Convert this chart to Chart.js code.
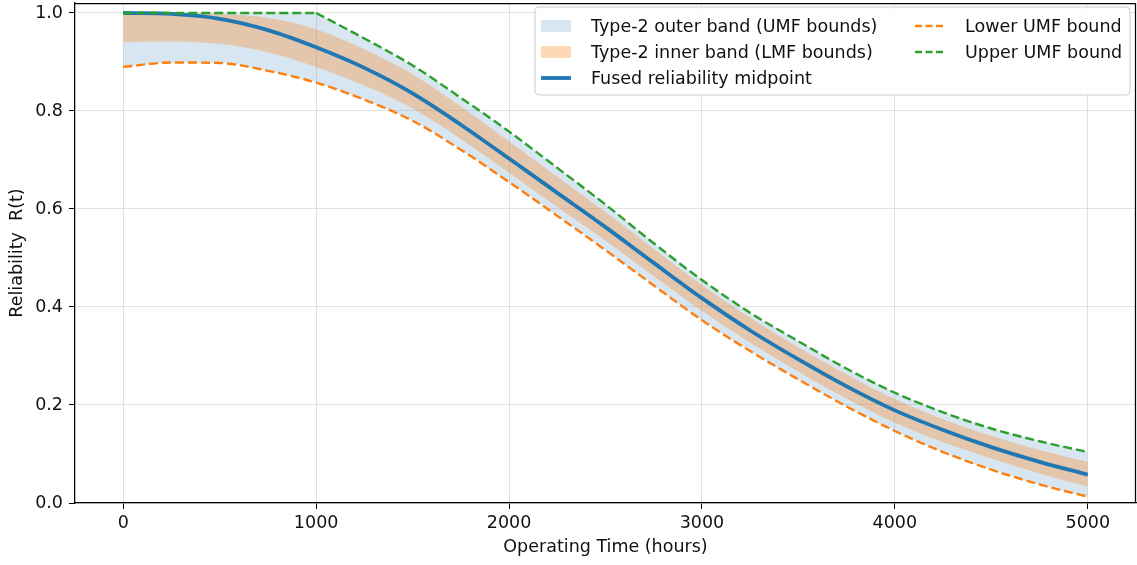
<!DOCTYPE html>
<html>
<head>
<meta charset="utf-8">
<script src="https://cdn.jsdelivr.net/npm/chart.js@4/dist/chart.umd.min.js"></script>
<style>
  html, body { margin: 0; padding: 0; background: #fff; }
  #wrap { width: 1137px; height: 565px; }
</style>
</head>
<body>
<div id="wrap"><canvas id="reliabilityChart" width="1137" height="565"></canvas></div>
<script>
// values
var hours    = [0, 250, 500, 750, 1000, 1250, 1500, 1750, 2000, 2250, 2500, 2750, 3000, 3250, 3500, 3750, 4000, 4250, 4500, 4750, 5000];
var midpoint = [1.000, 0.998, 0.988, 0.965, 0.930, 0.888, 0.836, 0.772, 0.703, 0.633, 0.563, 0.490, 0.418, 0.352, 0.293, 0.238, 0.189, 0.149, 0.114, 0.084, 0.058];
var upperUMF = [1.000, 1.000, 1.000, 1.000, 1.000, 0.948, 0.893, 0.827, 0.758, 0.684, 0.609, 0.530, 0.455, 0.388, 0.330, 0.274, 0.225, 0.185, 0.152, 0.126, 0.104];
var lowerUMF = [0.890, 0.899, 0.898, 0.882, 0.858, 0.823, 0.780, 0.721, 0.655, 0.586, 0.516, 0.444, 0.373, 0.310, 0.252, 0.197, 0.147, 0.104, 0.068, 0.038, 0.013];
var upperLMF = [1.000, 1.000, 0.998, 0.990, 0.967, 0.926, 0.875, 0.809, 0.738, 0.666, 0.594, 0.519, 0.445, 0.378, 0.318, 0.262, 0.212, 0.171, 0.137, 0.108, 0.084];
var lowerLMF = [0.941, 0.942, 0.937, 0.920, 0.890, 0.852, 0.805, 0.743, 0.674, 0.604, 0.535, 0.463, 0.392, 0.327, 0.268, 0.213, 0.164, 0.124, 0.091, 0.060, 0.033];
var xTicks = [0, 1000, 2000, 3000, 4000, 5000];
var yTicks = [0.0, 0.2, 0.4, 0.6, 0.8, 1.0];
var umfKneeHour = 1000; // upper UMF is clipped at 1.0 up to here

var legendItems = [
  { text: "Type-2 outer band (UMF bounds)", kind: "patch", color: "rgba(31,119,180,0.18)" },
  { text: "Type-2 inner band (LMF bounds)", kind: "patch", color: "rgba(255,127,14,0.3)" },
  { text: "Fused reliability midpoint", kind: "line", color: "#1f77b4" },
  { text: "Lower UMF bound", kind: "dash", color: "#ff7f0e" },
  { text: "Upper UMF bound", kind: "dash", color: "#2ca02c" }
];

function pts(arr) {
  return hours.map(function (h, i) { return { x: h, y: arr[i] }; });
}
var kneeIdx = hours.indexOf(umfKneeHour);
var upperFlat = pts(upperUMF).slice(0, kneeIdx + 1);
var upperFall = pts(upperUMF).slice(kneeIdx);

var FONT = "'DejaVu Sans', sans-serif";
var FSIZE = 17.5;

// box around the plot + matplotlib-like legend
var framePlugin = {
  id: "frame",
  afterDraw: function (chart) {
    var ctx = chart.ctx, a = chart.chartArea;
    ctx.save();
    ctx.strokeStyle = "#000";
    ctx.lineWidth = 1.25;
    ctx.beginPath();
    ctx.moveTo(a.left, a.top + 0.5);
    ctx.lineTo(a.right - 0.5, a.top + 0.5);
    ctx.lineTo(a.right - 0.5, a.bottom);
    ctx.stroke();

    // legend
    var bx = 535, by = 7, bw = 595, bh = 88, r = 4;
    ctx.fillStyle = "rgba(255,255,255,0.85)";
    ctx.strokeStyle = "#cccccc";
    ctx.lineWidth = 1;
    ctx.beginPath();
    ctx.moveTo(bx + r, by);
    ctx.lineTo(bx + bw - r, by);
    ctx.quadraticCurveTo(bx + bw, by, bx + bw, by + r);
    ctx.lineTo(bx + bw, by + bh - r);
    ctx.quadraticCurveTo(bx + bw, by + bh, bx + bw - r, by + bh);
    ctx.lineTo(bx + r, by + bh);
    ctx.quadraticCurveTo(bx, by + bh, bx, by + bh - r);
    ctx.lineTo(bx, by + r);
    ctx.quadraticCurveTo(bx, by, bx + r, by);
    ctx.closePath();
    ctx.fill();
    ctx.stroke();

    ctx.font = FSIZE + "px " + FONT;
    ctx.textBaseline = "middle";
    var cols = [{ x: 541, tx: 591 }, { x: 915, tx: 965 }];
    var rows = [26, 52, 78];
    legendItems.forEach(function (it, i) {
      var c = i < 3 ? cols[0] : cols[1];
      var y = i < 3 ? rows[i] : rows[i - 3];
      if (it.kind === "patch") {
        ctx.fillStyle = it.color;
        ctx.fillRect(c.x, y - 6, 30, 12);
      } else {
        ctx.strokeStyle = it.color;
        ctx.lineWidth = it.kind === "line" ? 3.8 : 2.4;
        ctx.setLineDash(it.kind === "dash" ? [7, 3.5] : []);
        ctx.beginPath();
        ctx.moveTo(c.x, y);
        ctx.lineTo(c.x + 30, y);
        ctx.stroke();
        ctx.setLineDash([]);
      }
      ctx.fillStyle = "#111";
      ctx.fillText(it.text, c.tx, y + 1);
    });
    ctx.restore();
  }
};

var dashStyle = { borderWidth: 2.4, borderDash: [9, 4], pointRadius: 0, fill: false, order: 0 };

var ctx = document.getElementById("reliabilityChart").getContext("2d");

new Chart(ctx, {
  type: "line",
  data: {
    datasets: [
      { label: "outer-low", data: pts(lowerUMF), borderWidth: 0, pointRadius: 0, fill: false, order: 3 },
      { label: "Type-2 outer band (UMF bounds)", data: pts(upperUMF), borderWidth: 0, pointRadius: 0,
        fill: 0, backgroundColor: "rgba(31,119,180,0.18)", cubicInterpolationMode: "default", tension: 0, order: 3 },
      { label: "inner-low", data: pts(lowerLMF), borderWidth: 0, pointRadius: 0, fill: false, order: 2 },
      { label: "Type-2 inner band (LMF bounds)", data: pts(upperLMF), borderWidth: 0, pointRadius: 0,
        fill: 2, backgroundColor: "rgba(255,127,14,0.3)", order: 2 },
      { label: "Fused reliability midpoint", data: pts(midpoint), borderColor: "#1f77b4", borderWidth: 3.8,
        pointRadius: 0, fill: false, order: 1 },
      Object.assign({ label: "Lower UMF bound", data: pts(lowerUMF), borderColor: "#ff7f0e" }, dashStyle),
      Object.assign({ label: "Upper UMF bound", data: upperFlat, borderColor: "#2ca02c" }, dashStyle),
      Object.assign({ label: "Upper UMF bound (falling)", data: upperFall, borderColor: "#2ca02c" }, dashStyle)
    ]
  },
  options: {
    responsive: false,
    animation: false,
    maintainAspectRatio: false,
    layout: { padding: { top: 3, right: 1, left: 0, bottom: 0 } },
    elements: { line: { cubicInterpolationMode: "monotone", borderCapStyle: "butt" } },
    plugins: {
      legend: { display: false },
      tooltip: { enabled: false },
      filler: { propagate: false }
    },
    scales: {
      x: {
        type: "linear",
        min: -250,
        max: 5250,
        afterBuildTicks: function (scale) {
          scale.ticks = xTicks.map(function (v) { return { value: v }; });
        },
        afterFit: function (scale) {
          scale.height = 62;
          scale.paddingLeft = 0;
          scale.paddingRight = 0;
        },
        ticks: { color: "#111", font: { family: FONT, size: FSIZE }, padding: 4, maxRotation: 0,
                 callback: function (v) { return String(v); } },
        grid: { color: "rgba(176,176,176,0.35)", tickColor: "#000", tickLength: 6, lineWidth: 1 },
        border: { color: "#000", width: 1.25 },
        title: { display: true, text: "Operating Time (hours)", color: "#111",
                 font: { family: FONT, size: FSIZE }, padding: { top: 0, bottom: 7 } }
      },
      y: {
        min: 0,
        max: 1.0204,
        afterBuildTicks: function (scale) {
          scale.ticks = yTicks.map(function (v) { return { value: v }; });
        },
        afterFit: function (scale) {
          scale.width = 75;
          scale.paddingTop = 0;
          scale.paddingBottom = 0;
        },
        ticks: { color: "#111", font: { family: FONT, size: FSIZE }, padding: 6,
                 callback: function (v) { return Number(v).toFixed(1); } },
        grid: { color: "rgba(176,176,176,0.35)", tickColor: "#000", tickLength: 6, lineWidth: 1 },
        border: { color: "#000", width: 1.25 },
        title: { display: true, text: "Reliability  R(t)", color: "#111",
                 font: { family: FONT, size: FSIZE }, padding: { top: 7, bottom: 0 } }
      }
    }
  },
  plugins: [framePlugin]
});
</script>
</body>
</html>
